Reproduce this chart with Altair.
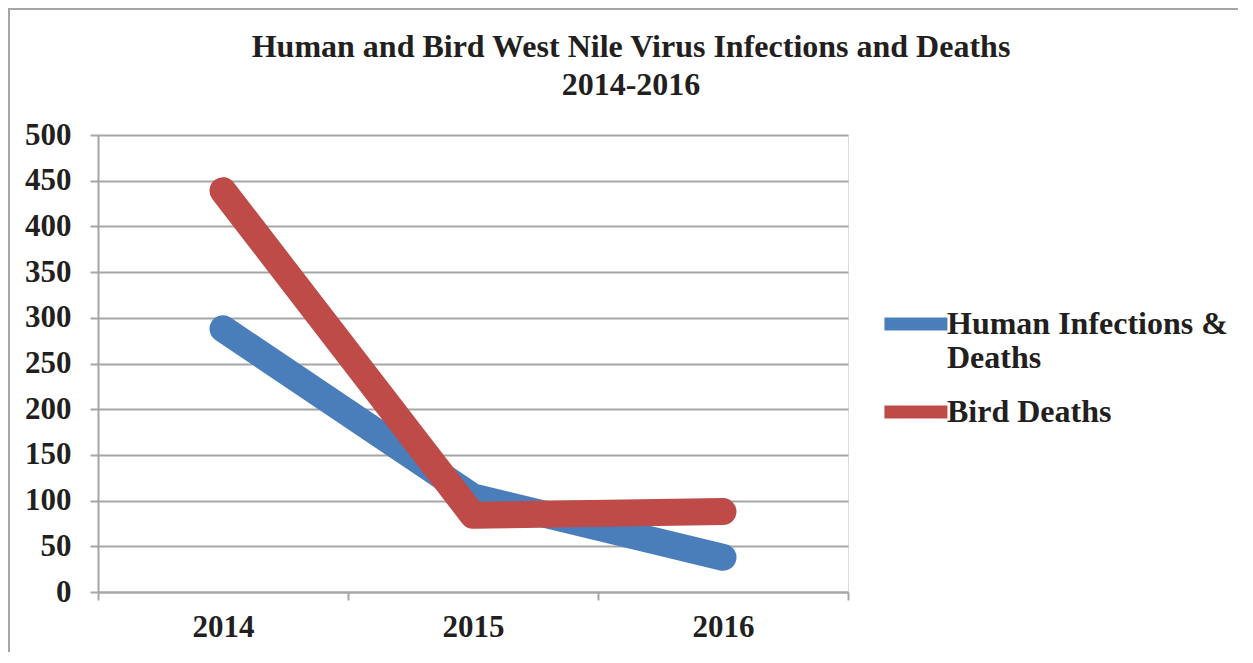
import altair as alt
import pandas as pd

years = ["2014", "2015", "2016"]
human = [288, 104, 38]
bird = [439, 84, 88]
series = ["Human Infections & Deaths", "Bird Deaths"]
colors = ["#4A7EBB", "#BE4B48"]
y_ticks = [0, 50, 100, 150, 200, 250, 300, 350, 400, 450, 500]
title_lines = ["Human and Bird West Nile Virus Infections and Deaths", "2014-2016"]

df = pd.DataFrame(
    {
        "year": years * 2,
        "value": human + bird,
        "series": [series[0]] * 3 + [series[1]] * 3,
    }
)

FONT = "Liberation Serif"
TXT = "#231F20"
GRID = "#A6A6A6"

x = alt.X(
    "year:O",
    title=None,
    scale=alt.Scale(type="band", paddingInner=0, paddingOuter=0),
    bandPosition=0.5,
    axis=alt.Axis(
        labelAngle=0,
        tickBand="extent",
        grid=False,
        domainColor=GRID,
        domainWidth=2,
        tickColor=GRID,
        tickWidth=2,
        tickSize=8,
        labelPadding=12,
        labelFont=FONT,
        labelFontSize=31,
        labelFontWeight="bold",
        labelColor=TXT,
    ),
)
y = alt.Y(
    "value:Q",
    title=None,
    scale=alt.Scale(domain=[0, 500], nice=False),
    axis=alt.Axis(
        values=y_ticks,
        grid=True,
        gridColor=GRID,
        gridWidth=2,
        domainColor=GRID,
        domainWidth=2,
        tickColor=GRID,
        tickWidth=2,
        tickSize=8,
        labelPadding=19,
        labelFont=FONT,
        labelFontSize=31,
        labelFontWeight="bold",
        labelColor=TXT,
    ),
)
color = alt.Color(
    "series:N",
    scale=alt.Scale(domain=series, range=colors),
    sort=series,
    legend=alt.Legend(
        title=None,
        orient="none",
        legendX=773,
        legendY=151,
        symbolType="M-0.78,0L1.22,0",
        symbolSize=3969,
        symbolStrokeWidth=13,
        labelFont=FONT,
        labelFontSize=32,
        labelFontWeight="bold",
        labelColor=TXT,
        labelOffset=0,
        labelLimit=400,
        rowPadding=0,
        labelExpr="datum.label == 'Human Infections & Deaths' ? ['Human Infections &', 'Deaths'] : datum.label",
    ),
)

base = alt.Chart(df).encode(x=x, y=y, color=color)
line_h = base.transform_filter(alt.datum.series == series[0]).mark_line(
    strokeWidth=27, strokeCap="round", strokeJoin="round"
)
line_b = base.transform_filter(alt.datum.series == series[1]).mark_line(
    strokeWidth=27, strokeCap="round", strokeJoin="round"
)

one = pd.DataFrame({"a": [0]})
border = alt.Chart(one).mark_rect(fill=None, stroke=GRID, strokeWidth=2).encode(
    x=alt.value(-89), x2=alt.value(2000), y=alt.value(-126), y2=alt.value(1000)
)
title = alt.Chart(one).mark_text(
    font=FONT,
    fontSize=32,
    fontWeight="bold",
    color=TXT,
    lineHeight=38,
    align="center",
    baseline="middle",
).encode(x=alt.value(533), y=alt.value(-88), text=alt.value(title_lines))

chart = (
    alt.layer(border, title, line_h, line_b)
    .properties(
        width=750,
        height=457,
        padding={"left": 90, "top": 127, "right": 390, "bottom": 60},
        autosize=alt.AutoSizeParams(type="none"),
    )
    .configure_view(stroke=None)
    .configure(background="white")
)

chart.save("out.html", embed_options={"renderer": "svg", "actions": False})
